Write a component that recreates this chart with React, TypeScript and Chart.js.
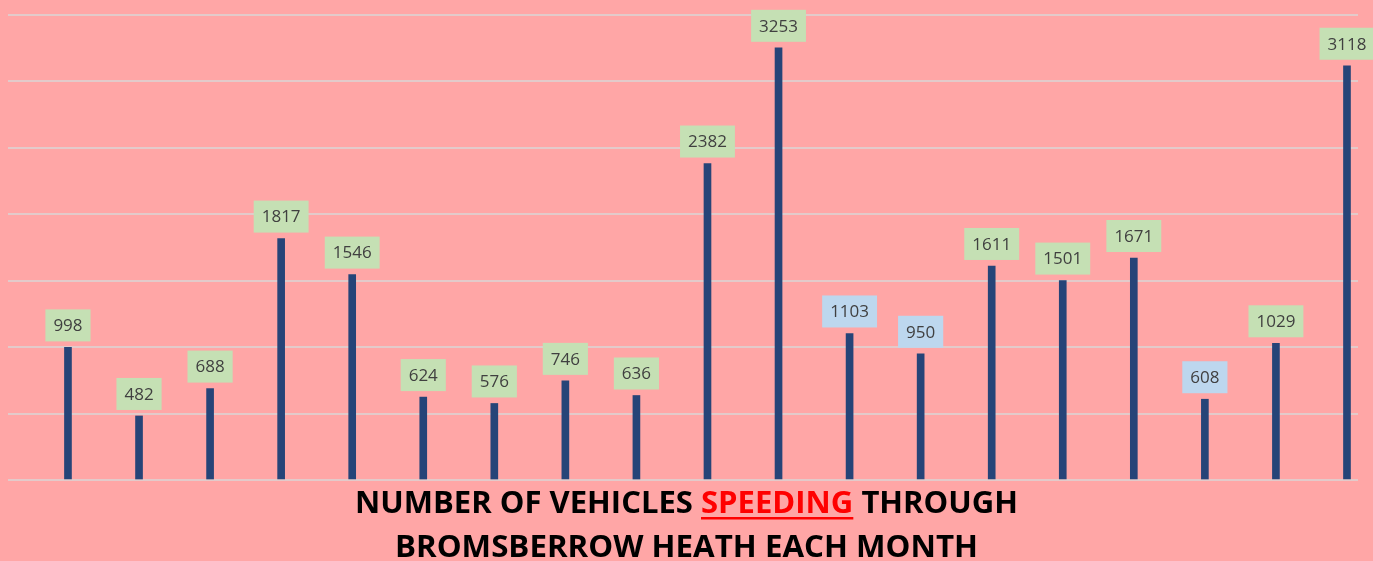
import React, { useEffect, useRef } from "react";
import { Chart, registerables } from "chart.js";

Chart.register(...registerables);

const values: number[] = [998, 482, 688, 1817, 1546, 624, 576, 746, 636, 2382, 3253, 1103, 950, 1611, 1501, 1671, 608, 1029, 3118];
const labelKinds: string[] = ["g", "g", "g", "g", "g", "g", "g", "g", "g", "g", "g", "b", "b", "g", "g", "g", "b", "g", "g"];
const titleLine1: string[] = ["NUMBER OF VEHICLES ", "SPEEDING", " THROUGH"];
const titleLine2 = "BROMSBERROW HEATH EACH MONTH";
const yTicks = { min: 0, max: 3500, step: 500 };

const BG = "#FFA6A6";
const BAR = "#264478";

const labelPlugin = {
  id: "boxLabels",
  afterDatasetsDraw(chart: any) {
    const ctx = chart.ctx;
    const meta = chart.getDatasetMeta(0);
    ctx.save();
    ctx.font = "17px 'Open Sans'";
    ctx.textAlign = "center";
    ctx.textBaseline = "middle";
    meta.data.forEach((el: any, i: number) => {
      const txt = String(values[i]);
      const w = ctx.measureText(txt).width + 16;
      const h = 32;
      const bottom = el.y - 6;
      ctx.fillStyle = labelKinds[i] === "b" ? "#BDD7EE" : "#C5E0B4";
      ctx.fillRect(el.x - w / 2, bottom - h, w, h);
      ctx.fillStyle = "#404040";
      ctx.fillText(txt, el.x, bottom - h / 2 + 1);
    });
    ctx.restore();
  },
};

const titlePlugin = {
  id: "bottomTitle",
  afterDraw(chart: any) {
    const ctx = chart.ctx;
    const cx = chart.width / 2;
    ctx.save();
    ctx.font = "bold 31px 'Open Sans'";
    ctx.textBaseline = "alphabetic";
    ctx.textAlign = "left";
    const widths = titleLine1.map((t) => ctx.measureText(t).width);
    const total = widths.reduce((a, b) => a + b, 0);
    const sx1 = 663 / total;
    ctx.save();
    ctx.translate(cx, 513);
    ctx.scale(sx1, 1);
    let x = -total / 2;
    titleLine1.forEach((t, i) => {
      ctx.fillStyle = i === 1 ? "#FF0000" : "#000000";
      ctx.fillText(t, x, 0);
      if (i === 1) {
        ctx.fillRect(x, 4, widths[i], 2.5);
      }
      x += widths[i];
    });
    ctx.restore();
    const w2 = ctx.measureText(titleLine2).width;
    const sx2 = 583 / w2;
    ctx.save();
    ctx.translate(cx, 557);
    ctx.scale(sx2, 1);
    ctx.fillStyle = "#000000";
    ctx.fillText(titleLine2, -w2 / 2, 0);
    ctx.restore();
    ctx.restore();
  },
};

export default function App() {
  const ref = useRef<HTMLCanvasElement | null>(null);
  useEffect(() => {
    if (!ref.current) return;
    const chart = new Chart(ref.current, {
      type: "bar",
      data: {
        datasets: [
          {
            data: values.map((v, i) => ({ x: i, y: v })),
            backgroundColor: BAR,
            borderWidth: 0,
            barThickness: 7,
          },
        ],
      },
      options: {
        responsive: false,
        animation: false,
        layout: { padding: { left: 8, right: 15, top: 15, bottom: 81 } },
        plugins: { legend: { display: false }, tooltip: { enabled: false }, title: { display: false } },
        scales: {
          x: {
            type: "linear",
            display: false,
            offset: false,
            min: -0.844,
            max: 18.155,
            grid: { offset: false },
          },
          y: {
            min: yTicks.min,
            max: yTicks.max,
            ticks: { display: false, stepSize: yTicks.step },
            grid: { color: "#E3CACA", lineWidth: 2, drawTicks: false },
            border: { display: false },
          },
        },
      },
      plugins: [labelPlugin, titlePlugin],
    });
    return () => chart.destroy();
  }, []);
  return (
    <div style={{ position: "absolute", left: 0, top: 0, width: 1373, height: 561, background: BG }}>
      <canvas ref={ref} width={1373} height={561} style={{ display: "block" }} />
    </div>
  );
}
